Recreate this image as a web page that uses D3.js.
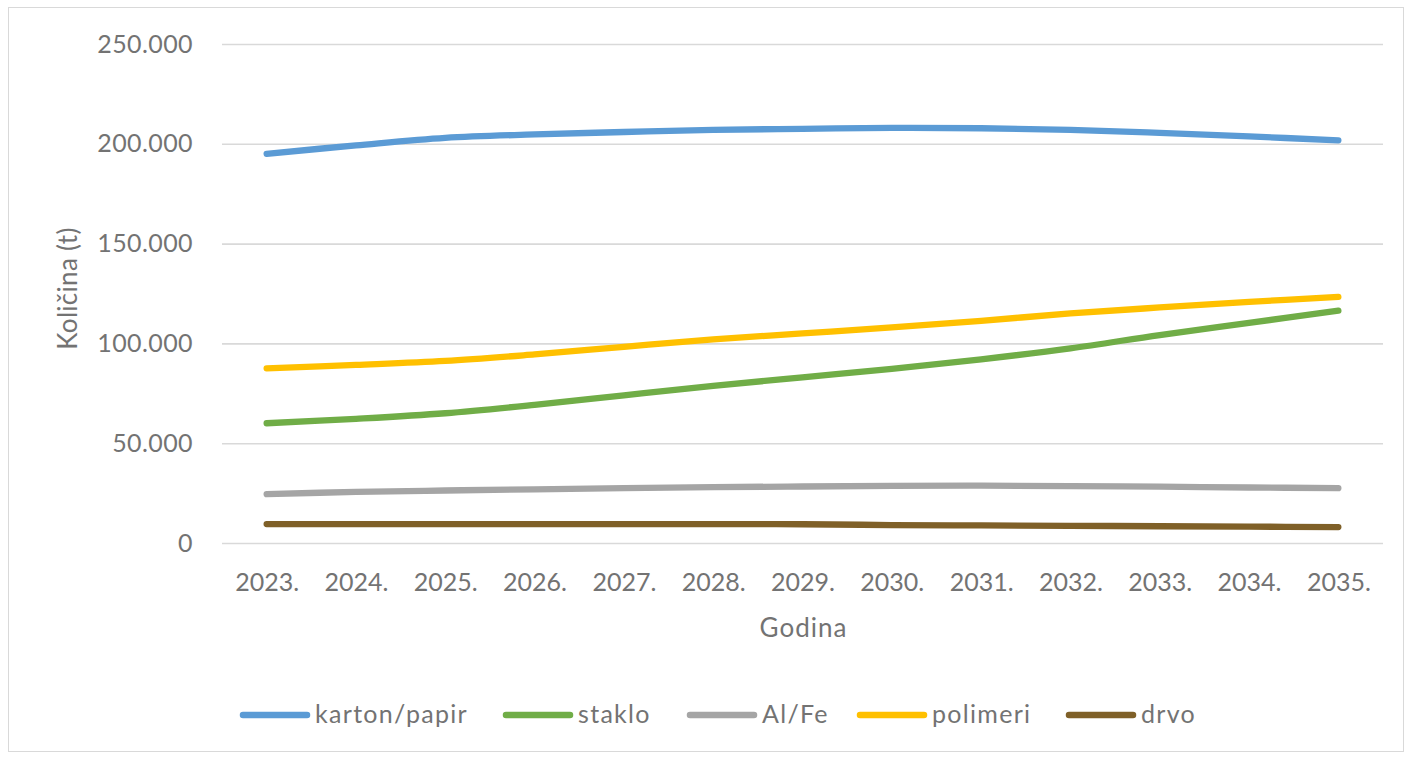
<!DOCTYPE html>
<html>
<head>
<meta charset="utf-8">
<script src="https://cdn.jsdelivr.net/npm/d3@7"></script>
<style>
html,body{margin:0;padding:0;background:#fff;}
svg text{font-family:Lato,"Open Sans",sans-serif;fill:#737373;}
</style>
</head>
<body>
<svg id="chart" width="1412" height="759"></svg>
<script>
const years = ["2023.","2024.","2025.","2026.","2027.","2028.","2029.","2030.","2031.","2032.","2033.","2034.","2035."];
const kartonPapir = [195000,199200,203000,204700,205900,207000,207500,208000,207800,207000,205500,203700,201700];
const staklo = [60000,62200,65000,69200,74000,78700,83000,87200,92000,97500,104200,110300,116400];
const alFe = [24500,25600,26300,26900,27500,28000,28300,28600,28700,28500,28200,27800,27500];
const polimeri = [87500,89200,91200,94500,98300,102000,105000,108000,111300,115000,118000,120800,123300];
const drvo = [9500,9500,9500,9500,9500,9500,9400,9000,8800,8600,8400,8200,8000];
const yTicks = [0,50000,100000,150000,200000,250000];
const seriesNames = ["karton/papir","staklo","Al/Fe","polimeri","drvo"];
const seriesColors = ["#5B9BD5","#70AD47","#A5A5A5","#FFC000","#7F6028"];
const seriesValues = [kartonPapir, staklo, alFe, polimeri, drvo];

const svg = d3.select("#chart");
const pLeft = 222, pRight = 1383, pTop = 44, pBottom = 543;

svg.append("rect").attr("x",8.5).attr("y",7.5).attr("width",1395).attr("height",744)
  .attr("fill","#fff").attr("stroke","#d9d9d9").attr("stroke-width",1);

const x = d3.scalePoint().domain(years).range([pLeft,pRight]).padding(0.5);
const y = d3.scaleLinear().domain([0,250000]).range([pBottom,pTop]);
const loc = d3.formatLocale({decimal:",",thousands:".",grouping:[3],currency:["",""]});
const fmt = loc.format(",d");

const yAxis = d3.axisLeft(y).tickValues(yTicks).tickSize(-(pRight-pLeft)).tickFormat(fmt).tickPadding(29);
const gy = svg.append("g").attr("transform",`translate(${pLeft},0)`).call(yAxis);
gy.select(".domain").remove();
gy.selectAll(".tick line").attr("stroke","#d9d9d9").attr("stroke-width",1.6);
gy.selectAll(".tick text").attr("font-size",25).style("font-family","Lato").attr("fill","#737373")
  .attr("letter-spacing",0.4);

const xAxis = d3.axisBottom(x).tickSize(0).tickPadding(0);
const gx = svg.append("g").attr("transform",`translate(0,${pBottom})`).call(xAxis);
gx.select(".domain").remove();
gx.selectAll(".tick text").attr("font-size",25).style("font-family","Lato").attr("dy",null).attr("y",48).attr("fill","#737373");

const line = d3.line().x((d,i)=>x(years[i])).y(d=>y(d)).curve(d3.curveCatmullRom.alpha(0));
seriesValues.forEach((vals,k)=>{
  svg.append("path").datum(vals).attr("d",line).attr("fill","none")
    .attr("stroke",seriesColors[k]).attr("stroke-width",6.3).attr("stroke-linecap","round").attr("stroke-linejoin","round");
});

svg.append("text").attr("x",(pLeft+pRight)/2+1).attr("y",637).attr("text-anchor","middle")
  .attr("font-size",26).attr("letter-spacing",1).text("Godina");
svg.append("text").attr("transform",`translate(77,${(pTop+pBottom)/2-5}) rotate(-90)`).attr("text-anchor","middle")
  .attr("font-size",26).attr("letter-spacing",0.3).text("Količina (t)");

const legendX = [240,503,687,857,1066];
const lg = svg.append("g");
seriesNames.forEach((name,k)=>{
  const g = lg.append("g").attr("transform",`translate(${legendX[k]},715)`);
  g.append("line").attr("x1",3).attr("x2",67).attr("y1",0).attr("y2",0)
    .attr("stroke",seriesColors[k]).attr("stroke-width",6.5).attr("stroke-linecap","round");
  g.append("text").attr("x",75).attr("y",8).attr("font-size",25).attr("letter-spacing",1.3).text(name);
});
</script>
</body>
</html>
